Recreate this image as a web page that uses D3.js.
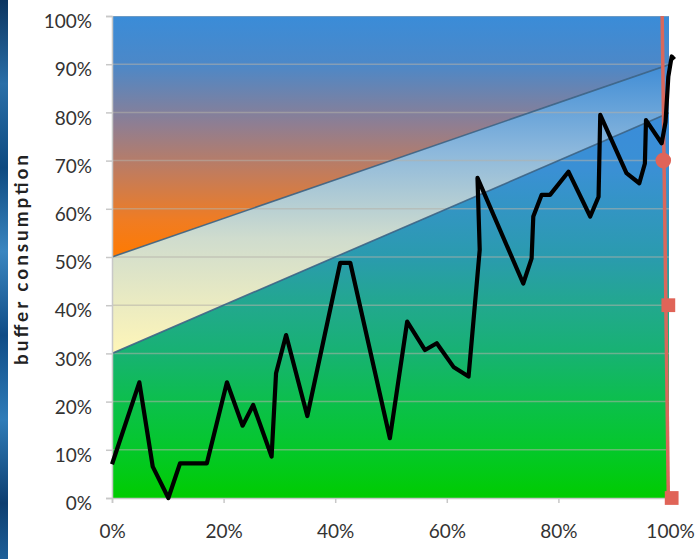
<!DOCTYPE html>
<html>
<head>
<meta charset="utf-8">
<script src="https://cdn.jsdelivr.net/npm/d3@7"></script>
<style>
  html, body { margin: 0; padding: 0; background: #ffffff; }
  svg { display: block; }
</style>
</head>
<body>
<svg id="chart" width="700" height="559"></svg>
<script>
// ---- data ----
const yTicks = [0, 10, 20, 30, 40, 50, 60, 70, 80, 90, 100];
const xTicks = [0, 20, 40, 60, 80, 100];
const yTickLabels = ["0%", "10%", "20%", "30%", "40%", "50%", "60%", "70%", "80%", "90%", "100%"];
const xTickLabels = ["0%", "20%", "40%", "60%", "80%", "100%"];

// zone boundaries (x in % of project, y in % buffer consumption)
const zoneX = [0, 100];
const greenTop = [30, 80];   // green / yellow boundary
const yellowTop = [50, 90];  // yellow / red boundary
const zoneMax = [100, 100];

// buffer consumption trajectory
const consX = [0, 4.9, 7.3, 10.1, 12.2, 17.0, 20.6, 23.4, 25.3, 28.6, 29.4, 31.2, 35.0, 40.9, 42.7, 49.8, 52.9, 56.1, 58.2, 61.2, 63.9, 65.9, 65.5, 73.7, 75.2, 75.5, 77.0, 78.5, 81.8, 85.7, 87.2, 87.5, 92.2, 94.5, 95.5, 95.7, 98.5, 99.2, 99.7, 100.3, 100.8];
const consY = [7, 24, 6.5, 0, 7.2, 7.2, 24, 15, 19.3, 8.6, 25.9, 33.8, 17, 48.8, 48.8, 12.4, 36.6, 30.7, 32.1, 27.2, 25.2, 51.5, 66.4, 44.5, 49.7, 58.4, 62.9, 62.9, 67.7, 58.4, 62.5, 79.5, 67.4, 65.3, 69.4, 78.4, 73.6, 78, 87.4, 91.6, 91];

// finish marker line and markers
const finishX = [98.6, 99.7];
const finishY = [100, 0];
const markerX = [98.8, 99.7, 100.3];
const markerY = [70, 40, 0];
const markerShape = ["circle", "square", "square"];

const yTitle = "buffer consumption";

// ---- layout ----
const svg = d3.select("#chart");
const x = d3.scaleLinear().domain([0, 100]).range([112, 670]);
const y = d3.scaleLinear().domain([0, 100]).range([498, 16]);
const plotRight = 669;

const defs = svg.append("defs");
function vGrad(id, yTopVal, yBotVal, stops) {
  const g = defs.append("linearGradient").attr("id", id)
    .attr("gradientUnits", "userSpaceOnUse")
    .attr("x1", 0).attr("x2", 0)
    .attr("y1", y(yTopVal)).attr("y2", y(yBotVal));
  stops.forEach(s => g.append("stop").attr("offset", s[0]).attr("stop-color", s[1]));
}
vGrad("gRed", 100, 50, [[0, "#3a8cd8"], [0.2, "#4c88c8"], [0.45, "#8f7e92"], [0.65, "#c27c5c"], [0.85, "#f07c22"], [1, "#ff7a00"]]);
vGrad("gYel", 90, 30, [[0, "#3f8cd6"], [0.3, "#8cb8dc"], [0.6, "#cfdcce"], [1, "#fff6b8"]]);
vGrad("gGrn", 80, 0, [[0, "#3a8cda"], [0.15, "#3a90d4"], [0.375, "#2a9bae"], [0.5, "#22a88e"], [0.625, "#17b272"], [0.75, "#0cbf4c"], [0.875, "#04c82a"], [1, "#00cc00"]]);

// left decorative strip
const sg = defs.append("linearGradient").attr("id", "strip").attr("x1", 0).attr("x2", 0).attr("y1", 0).attr("y2", 1);
[["0", "#0c3560"], ["0.15", "#2a6fa8"], ["0.3", "#0e4a80"], ["0.45", "#3a86c0"], ["0.6", "#104c86"], ["0.75", "#2f7cb8"], ["0.9", "#0d3e70"], ["1", "#1e5f98"]]
  .forEach(s => sg.append("stop").attr("offset", s[0]).attr("stop-color", s[1]));
svg.append("rect").attr("x", 0).attr("y", 0).attr("width", 8).attr("height", 559).attr("fill", "url(#strip)");

const clip = defs.append("clipPath").attr("id", "plotClip");
clip.append("rect").attr("x", x(0)).attr("y", y(100)).attr("width", plotRight - x(0)).attr("height", y(0) - y(100));

const zoneData = zoneX.map((v, i) => ({ x: v, g: greenTop[i], yl: yellowTop[i], m: zoneMax[i] }));
const areaGen = (lo, hi) => d3.area().x(d => x(d.x)).y0(d => y(lo(d))).y1(d => y(hi(d)));

const plot = svg.append("g").attr("clip-path", "url(#plotClip)");
plot.append("path").datum(zoneData).attr("d", areaGen(d => 0, d => d.g)).attr("fill", "url(#gGrn)");
plot.append("path").datum(zoneData).attr("d", areaGen(d => d.g, d => d.yl)).attr("fill", "url(#gYel)");
plot.append("path").datum(zoneData).attr("d", areaGen(d => d.yl, d => d.m)).attr("fill", "url(#gRed)");

// gridlines
plot.selectAll("line.grid").data(yTicks.slice(1)).enter().append("line")
  .attr("x1", x(0)).attr("x2", plotRight)
  .attr("y1", d => y(d)).attr("y2", d => y(d))
  .attr("stroke", "#b4b0a8").attr("stroke-opacity", 0.55).attr("stroke-width", 1.5);

// zone boundary lines
const lineGen = d3.line().x(d => x(d[0])).y(d => y(d[1]));
[greenTop, yellowTop].forEach(arr => {
  plot.append("path").datum(zoneX.map((v, i) => [v, arr[i]]))
    .attr("d", lineGen).attr("fill", "none")
    .attr("stroke", "#3a6284").attr("stroke-width", 1.6).attr("stroke-opacity", 0.9);
});

// axes
const yAxis = d3.axisLeft(y).tickValues(yTicks).tickFormat((d, i) => yTickLabels[i]).tickSize(6).tickPadding(14);
const gy = svg.append("g").attr("transform", `translate(${x(0)},0)`).call(yAxis);
const xAxis = d3.axisBottom(x).tickValues(xTicks).tickFormat((d, i) => xTickLabels[i]).tickSize(5).tickPadding(25);
const gx = svg.append("g").attr("transform", `translate(0,${y(0)})`).call(xAxis);
[gx, gy].forEach(g => {
  g.select(".domain").attr("stroke", "#c8c8c8").attr("stroke-width", 1.5);
  g.selectAll(".tick line").attr("stroke", "#c8c8c8").attr("stroke-width", 1.5);
  g.selectAll(".tick text").attr("font-family", "Lato, 'Open Sans', sans-serif")
    .attr("font-size", 19).attr("fill", "#333");
});
gy.selectAll(".tick text").attr("dy", "0.62em");
gx.selectAll(".tick text").attr("dy", "0.5em");

// y title
svg.append("text")
  .attr("transform", `translate(28,260) rotate(-90)`)
  .attr("text-anchor", "middle")
  .attr("font-family", "Lato, 'Open Sans', sans-serif")
  .attr("font-weight", "bold").attr("font-size", 19).attr("fill", "#222")
  .attr("textLength", 210).attr("lengthAdjust", "spacing")
  .text(yTitle);

// finish line
svg.append("path").datum(finishX.map((v, i) => [v, finishY[i]]))
  .attr("d", lineGen).attr("fill", "none").attr("stroke", "#d9685c").attr("stroke-width", 3.5);

// consumption line
svg.append("path").datum(consX.map((v, i) => [v, consY[i]]))
  .attr("d", lineGen).attr("fill", "none").attr("stroke", "#000").attr("stroke-width", 4.2)
  .attr("stroke-linejoin", "round");

// markers
const mk = markerX.map((v, i) => ({ x: v, y: markerY[i], s: markerShape[i] }));
svg.selectAll("path.mk").data(mk).enter().append("path")
  .attr("transform", d => `translate(${x(d.x)},${y(d.y)})`)
  .attr("d", d => d3.symbol().type(d.s === "circle" ? d3.symbolCircle : d3.symbolSquare).size(190)())
  .attr("fill", "#e06458");
</script>
</body>
</html>
